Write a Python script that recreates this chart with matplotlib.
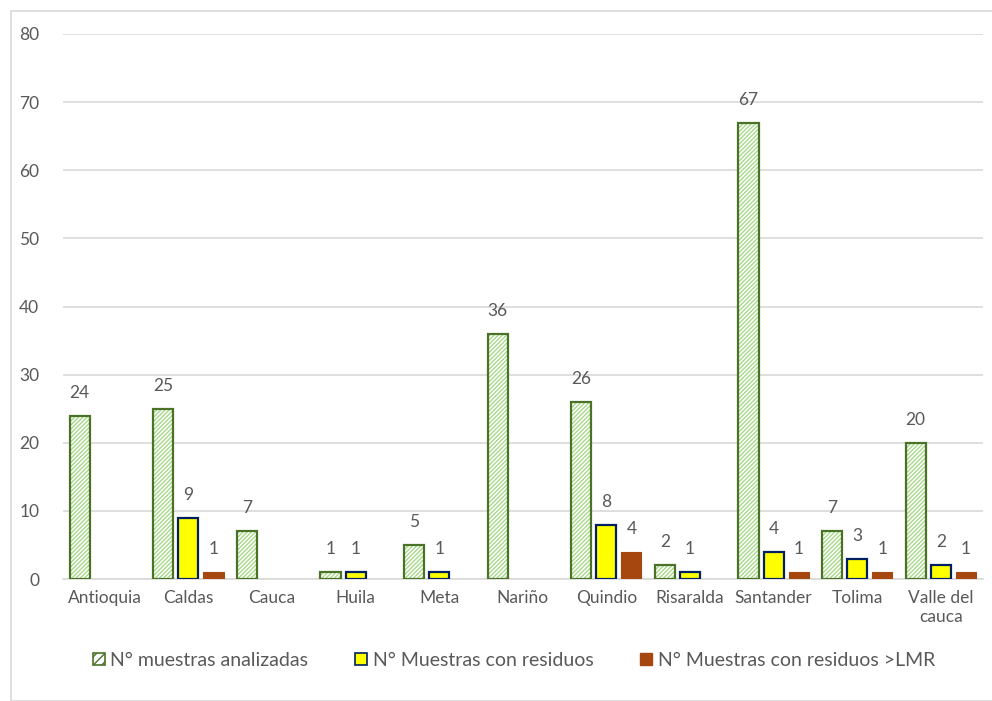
import numpy as np
import matplotlib
matplotlib.use("Agg")
import matplotlib.pyplot as plt
from matplotlib.patches import Rectangle, Patch

# datos del gráfico
departamentos = ["Antioquia", "Caldas", "Cauca", "Huila", "Meta", "Nariño",
                 "Quindio", "Risaralda", "Santander", "Tolima", "Valle del\ncauca"]
analizadas = [24, 25, 7, 1, 5, 36, 26, 2, 67, 7, 20]
con_residuos = [0, 9, 0, 1, 1, 0, 8, 1, 4, 3, 2]
mayor_lmr = [0, 1, 0, 0, 0, 0, 4, 0, 1, 1, 1]

plt.rcParams["font.family"] = ["Lato", "DejaVu Sans"]
plt.rcParams["hatch.linewidth"] = 1.0

gris = "#595959"
verde_claro = "#A9D98A"
verde_osc = "#4A7328"
amarillo = "#FFFF00"
azul = "#002060"
cafe = "#A5470F"

fig = plt.figure(figsize=(9.92, 7.01), dpi=100)
ax = fig.add_axes([0.0635, 0.174, 0.927, 0.7775])

x = np.arange(len(departamentos))
w = 0.24
d = 0.30

# barras con cero no se dibujan
def sin_ceros(vals):
    return np.array([v if v > 0 else np.nan for v in vals], dtype=float)

a = sin_ceros(analizadas)
b = sin_ceros(con_residuos)
c = sin_ceros(mayor_lmr)

ax.bar(x - d, a, w, color="white", hatch="////////", edgecolor=verde_claro, linewidth=0, zorder=3)
ax.bar(x - d, a, w, fill=False, edgecolor=verde_osc, linewidth=1.6, zorder=4)
ax.bar(x, b, w, color=amarillo, edgecolor=azul, linewidth=1.6, zorder=3)
ax.bar(x + d, c, w, color=cafe, edgecolor=cafe, linewidth=0.8, zorder=3)

# etiquetas de valores
for serie, off in [(a, -d), (b, 0), (c, d)]:
    for xi, v in zip(x, serie):
        if not np.isnan(v):
            ax.text(xi + off, v + 2.2, f"{int(v)}", ha="center", va="bottom",
                    fontsize=12.5, color=gris)

ax.set_xlim(-0.5, len(departamentos) - 0.5)
ax.set_ylim(0, 80)
ax.set_yticks(range(0, 81, 10))
ax.set_xticks(x)
ax.set_xticklabels(departamentos)
ax.yaxis.grid(True, color="#D9D9D9", linewidth=1.2, zorder=0)
ax.set_axisbelow(True)
for s in ["top", "right", "left"]:
    ax.spines[s].set_visible(False)
ax.spines["bottom"].set_color("#D9D9D9")
ax.spines["bottom"].set_linewidth(1.2)
ax.tick_params(axis="both", length=0, labelsize=12.5, labelcolor=gris)
ax.tick_params(axis="y", pad=17)
ax.tick_params(axis="x", pad=8)

# leyenda
handles = [
    Patch(facecolor="white", edgecolor=verde_osc, hatch="////", linewidth=1.2),
    Patch(facecolor=amarillo, edgecolor=azul, linewidth=1.2),
    Patch(facecolor=cafe, edgecolor=cafe),
]
labels = ["N° muestras analizadas", "N° Muestras con residuos", "N° Muestras con residuos >LMR"]
fig.legend(handles, labels, loc="center", bbox_to_anchor=(0.518, 0.058), ncol=3,
           frameon=False, fontsize=14, labelcolor=gris, handlelength=0.6,
           handleheight=0.6, handletextpad=0.3, columnspacing=2.4)

# borde del área del gráfico
fig.patches.append(Rectangle((0.011, 0.0), 1.0, 0.985, transform=fig.transFigure,
                             fill=False, edgecolor="#D9D9D9", linewidth=1.2))

fig.savefig("out.png", dpi=100)
